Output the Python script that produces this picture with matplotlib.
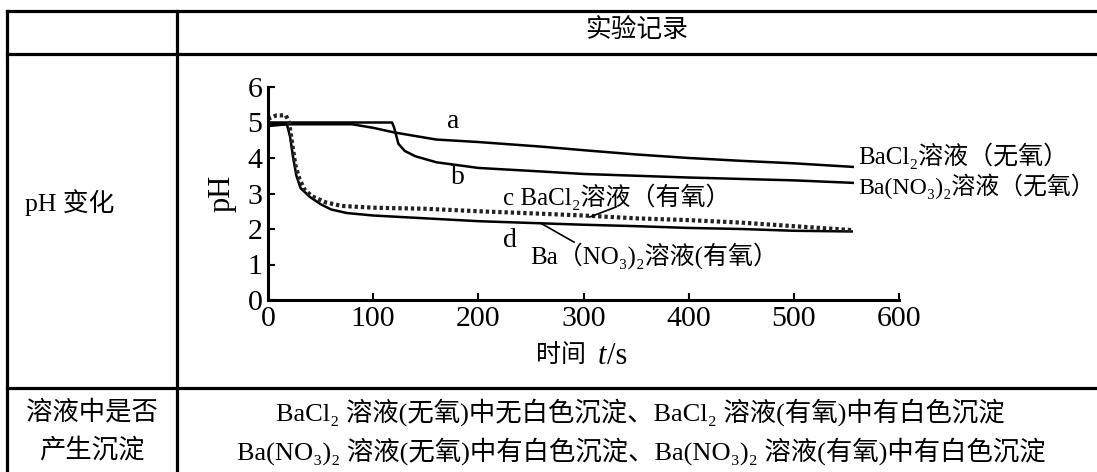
import matplotlib
matplotlib.use("Agg")
import matplotlib.pyplot as plt
from matplotlib.lines import Line2D

plt.rcParams['font.family'] = ['Liberation Serif', 'Noto Sans CJK SC', 'DejaVu Sans']

# curve a: BaCl2 (no O2)
t_a = [0, 80, 100, 120, 160, 200, 260, 300, 350, 400, 450, 500, 556]
ph_a = [4.95, 4.95, 4.85, 4.72, 4.52, 4.45, 4.32, 4.22, 4.1, 4.0, 3.92, 3.85, 3.75]
# curve b: Ba(NO3)2 (no O2)
t_b = [0, 118, 120, 124, 130, 140, 160, 200, 260, 300, 400, 500, 556]
ph_b = [5.0, 5.0, 4.85, 4.4, 4.2, 4.05, 3.88, 3.72, 3.62, 3.55, 3.45, 3.37, 3.3]
# curve c: BaCl2 (O2), dotted
t_c = [0, 8, 17, 20, 23, 26, 30, 35, 42, 55, 70, 100, 150, 200, 260, 300, 350, 400, 450, 500, 530, 555]
ph_c = [5.1, 5.2, 5.2, 5.0, 4.4, 3.8, 3.4, 3.1, 2.92, 2.75, 2.65, 2.6, 2.57, 2.5, 2.43, 2.38, 2.3, 2.25, 2.18, 2.08, 2.02, 1.97]
# curve d: Ba(NO3)2 (O2)
t_d = [0, 18, 21, 24, 27, 31, 40, 50, 60, 75, 100, 150, 200, 260, 300, 350, 400, 450, 500, 555]
ph_d = [4.9, 4.95, 4.6, 4.0, 3.5, 3.15, 2.9, 2.7, 2.55, 2.45, 2.38, 2.3, 2.22, 2.16, 2.12, 2.08, 2.03, 2.0, 1.95, 1.93]

xticks = [0, 100, 200, 300, 400, 500, 600]
yticks = [0, 1, 2, 3, 4, 5, 6]

W, H = 1097, 472
fig = plt.figure(figsize=(W / 100, H / 100), dpi=100)

def fx(x):
    return x / W

def fy(y):
    return 1 - y / H

# table grid
lw_tab = 2.3
for y in [11, 54, 388]:
    fig.add_artist(Line2D([fx(7), 1], [fy(y), fy(y)], color='black', lw=lw_tab))
for x in [7, 177]:
    fig.add_artist(Line2D([fx(x), fx(x)], [fy(11), 0], color='black', lw=lw_tab))

fig.text(fx(637), fy(31), "实验记录", ha='center', va='center', fontsize=18.5)
fig.text(fx(25), fy(203), "pH 变化", ha='left', va='center', fontsize=18.5)
fig.text(fx(92), fy(412), "溶液中是否", ha='center', va='center', fontsize=19)
fig.text(fx(92), fy(451), "产生沉淀", ha='center', va='center', fontsize=19)
fig.text(fx(640), fy(412), "BaCl₂ 溶液(无氧)中无白色沉淀、BaCl₂ 溶液(有氧)中有白色沉淀",
         ha='center', va='center', fontsize=19)
fig.text(fx(641), fy(451), "Ba(NO₃)₂ 溶液(无氧)中有白色沉淀、Ba(NO₃)₂ 溶液(有氧)中有白色沉淀",
         ha='center', va='center', fontsize=19)

# chart
ax = fig.add_axes([fx(268), fy(300), (899 - 268) / W, (300 - 87) / H])
ax.plot(t_a, ph_a, color='black', lw=1.8)
ax.plot(t_b, ph_b, color='black', lw=1.8)
ax.plot(t_d, ph_d, color='black', lw=1.8)
ax.plot(t_c, ph_c, color='#222222', lw=3, linestyle=(0, (0.8, 0.7)))

ax.set_xlim(0, 600)
ax.set_ylim(0, 6)
ax.set_xticks(xticks)
ax.set_yticks(yticks)
ax.spines['top'].set_visible(False)
ax.spines['right'].set_visible(False)
ax.spines['left'].set_linewidth(2.2)
ax.spines['bottom'].set_linewidth(2.2)
ax.tick_params(direction='in', length=5, width=1.5, labelsize=21.5, pad=4)
ax.patch.set_alpha(0)

ax.set_ylabel("pH", fontsize=22, labelpad=8)
fig.text(fx(592), fy(356), "时间 ", ha='right', va='center', fontsize=18)
fig.text(fx(598), fy(356), "t", ha='left', va='center', fontsize=22, style='italic')
fig.text(fx(607), fy(356), "/s", ha='left', va='center', fontsize=22)

lab = 18
ax.text(176, 5.04, "a", ha='center', va='center', fontsize=20)
ax.text(181, 3.46, "b", ha='center', va='center', fontsize=20)
ax.text(223, 2.9, "c BaCl₂溶液（有氧）", ha='left', va='center', fontsize=lab)
ax.text(230, 1.69, "d", ha='center', va='center', fontsize=20)
ax.text(249, 1.24, "Ba（NO₃)₂溶液(有氧）", ha='left', va='center', fontsize=lab)
ax.text(561, 4.06, "BaCl₂溶液（无氧）", ha='left', va='center', fontsize=lab, clip_on=False)
ax.text(561, 3.21, "Ba(NO₃)₂溶液（无氧）", ha='left', va='center', fontsize=17.2, clip_on=False)

# leader lines
ax.plot([306, 331], [2.34, 2.62], color='black', lw=1.2)
ax.plot([259, 291], [2.17, 1.63], color='black', lw=1.2)

fig.savefig("out.png", dpi=100)
